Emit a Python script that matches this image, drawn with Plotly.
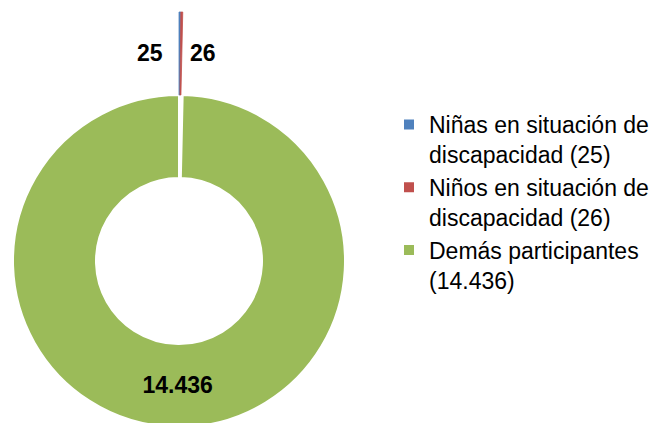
import plotly.graph_objects as go

# ---- data ----
labels = [
    "Niñas en situación de discapacidad",
    "Niños en situación de discapacidad",
    "Demás participantes",
]
values = [25, 26, 14436]
colors = ["#4F81BD", "#C0504D", "#9BBB59"]


def fmt(v):
    return f"{v:,}".replace(",", ".")


legend_labels = []
for lab, v in zip(labels, values):
    if lab.startswith("Demás"):
        legend_labels.append(f"{lab}<br>({fmt(v)})")
    else:
        words = lab.split(" ")
        legend_labels.append(" ".join(words[:-1]) + "<br>" + words[-1] + f" ({fmt(v)})")

W, H = 658, 423
OFF = 8  # page body margin (the figure is drawn 8px right/down)
FONT = "Liberation Sans, Arial, sans-serif"


def px(x):  # page x -> paper fraction
    return (x - OFF) / W


def py(y):  # page y -> paper fraction
    return 1 - (y - OFF) / H


# main donut geometry (page pixels)
cx, cy_main, r_main = 179, 261, 166
# exploded small slices ring (page pixels)
r_exp, top_exp, inner_exp_y = 170, 12, 95
cy_exp = top_exp + r_exp

fig = go.Figure()

# main donut (provides legend)
fig.add_trace(go.Pie(
    labels=legend_labels,
    values=values,
    marker=dict(colors=colors, line=dict(color="white", width=2)),
    hole=0.5,
    sort=False,
    direction="clockwise",
    rotation=0,
    text=["" if i < 2 else fmt(v) for i, v in enumerate(values)],
    textinfo="text",
    textposition="inside",
    insidetextorientation="horizontal",
    textfont=dict(family=FONT, size=23, color="black", weight="bold"),
    domain=dict(x=[px(cx - r_main), px(cx + r_main)],
                y=[py(cy_main + r_main), py(cy_main - r_main)]),
    hoverinfo="label+value",
))

# exploded small slices
fig.add_trace(go.Pie(
    labels=legend_labels,
    values=values,
    marker=dict(colors=[colors[0], colors[1], "rgba(0,0,0,0)"],
                line=dict(color=[colors[0], colors[1], "rgba(0,0,0,0)"], width=0.8)),
    hole=(cy_exp - inner_exp_y) / r_exp,
    sort=False,
    direction="clockwise",
    rotation=0,
    textinfo="none",
    showlegend=False,
    domain=dict(x=[px(cx - r_exp), px(cx + r_exp)],
                y=[py(top_exp + 2 * r_exp), py(top_exp)]),
    hoverinfo="skip",
))

# value labels for the small slices
for xpix, v in [(150, values[0]), (203, values[1])]:
    fig.add_annotation(x=px(xpix), y=py(53), xref="paper", yref="paper",
                       xanchor="center", yanchor="middle",
                       text=fmt(v), showarrow=False,
                       font=dict(family=FONT, size=23, color="black", weight="bold"))

fig.update_layout(
    width=W, height=H,
    margin=dict(l=0, r=0, t=0, b=0, autoexpand=False),
    paper_bgcolor="white",
    plot_bgcolor="white",
    legend=dict(
        x=px(389), y=py(103), xanchor="left", yanchor="top",
        font=dict(family=FONT, size=23, color="black"),
        valign="top",
        bgcolor="rgba(0,0,0,0)",
        traceorder="normal",
    ),
)

fig.write_html("out.html")
